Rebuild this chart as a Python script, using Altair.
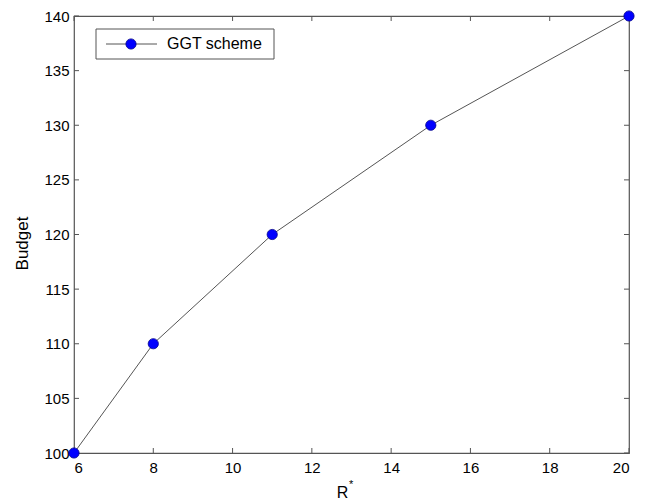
import altair as alt
import pandas as pd

# Data
r_values = [6, 8, 11, 15, 20]
budget_values = [100, 110, 120, 130, 140]
x_ticks = [6, 8, 10, 12, 14, 16, 18, 20]
y_ticks = [100, 105, 110, 115, 120, 125, 130, 135, 140]
series_name = "GGT scheme"

W, H = 555, 437
FONT = "Liberation Sans"
AX = "#555555"

df = pd.DataFrame({"x": r_values, "y": budget_values})
xt = pd.DataFrame({"x": x_ticks})
yt = pd.DataFrame({"y": y_ticks})

xscale = alt.Scale(domain=[6, 20], nice=False, zero=False)
yscale = alt.Scale(domain=[100, 140], nice=False, zero=False)

x_enc = alt.X("x:Q", scale=xscale,
              axis=alt.Axis(values=x_ticks, title="R", domain=False, ticks=False,
                            grid=False, labelPadding=7, labelFontSize=15,
                            labelColor="black", labelFont=FONT,
                            titleFont=FONT, titleFontSize=16, titleFontWeight="normal",
                            titleColor="black", titleX=268, titleY=44,
                            titleBaseline="alphabetic", titleAnchor="start", titleAlign="center"))
y_enc = alt.Y("y:Q", scale=yscale,
              axis=alt.Axis(values=y_ticks, title="Budget", domain=False, ticks=False,
                            grid=False, labelPadding=5, labelFontSize=15,
                            labelColor="black", labelFont=FONT,
                            titleFont=FONT, titleFontSize=17, titleFontWeight="normal",
                            titleColor="black", titleX=-52, titleY=227,
                            titleAngle=270, titleBaseline="middle", titleAlign="center"))

line = alt.Chart(df).mark_line(color="#555555", strokeWidth=1).encode(x=x_enc, y=y_enc)
points = alt.Chart(df).mark_point(filled=True, shape="circle", size=105, color="#0000ff",
                                  stroke="#00008b", strokeWidth=0.8, opacity=1).encode(
    x=alt.X("x:Q", scale=xscale), y=alt.Y("y:Q", scale=yscale))

tick_len = 5
bx = alt.Chart(xt).mark_rule(color=AX, strokeWidth=1).encode(
    x=alt.X("x:Q", scale=xscale), y=alt.value(H), y2=alt.value(H - tick_len))
tx = alt.Chart(xt).mark_rule(color=AX, strokeWidth=1).encode(
    x=alt.X("x:Q", scale=xscale), y=alt.value(0), y2=alt.value(tick_len))
ly = alt.Chart(yt).mark_rule(color=AX, strokeWidth=1).encode(
    y=alt.Y("y:Q", scale=yscale), x=alt.value(0), x2=alt.value(tick_len))
ry = alt.Chart(yt).mark_rule(color=AX, strokeWidth=1).encode(
    y=alt.Y("y:Q", scale=yscale), x=alt.value(W), x2=alt.value(W - tick_len))

# superscript asterisk of the x title
star = alt.Chart(pd.DataFrame({"t": ["*"]})).mark_text(
    font=FONT, fontSize=11, color="black", align="left", baseline="alphabetic").encode(
    x=alt.value(275), y=alt.value(472), text="t:N")

# legend (manual, MATLAB style)
leg_df = pd.DataFrame({"t": [series_name]})
leg_box = alt.Chart(leg_df).mark_rect(fill="white", stroke=AX, strokeWidth=1).encode(
    x=alt.value(22), x2=alt.value(200), y=alt.value(13), y2=alt.value(43))
leg_line = alt.Chart(leg_df).mark_rule(color=AX, strokeWidth=1).encode(
    x=alt.value(32), x2=alt.value(83), y=alt.value(28))
leg_pt = alt.Chart(leg_df).mark_point(filled=True, shape="circle", size=105, color="#0000ff",
                                      stroke="#00008b", strokeWidth=0.8, opacity=1).encode(
    x=alt.value(57), y=alt.value(28))
leg_txt = alt.Chart(leg_df).mark_text(font=FONT, fontSize=16, color="black",
                                      align="left", baseline="middle").encode(
    x=alt.value(93), y=alt.value(28), text="t:N")

chart = alt.layer(line, bx, tx, ly, ry, points, star, leg_box, leg_line, leg_pt, leg_txt).properties(
    width=W, height=H,
    autosize=alt.AutoSizeParams(type="none"),
    padding={"left": 74, "top": 16, "right": 19, "bottom": 49},
    background="white",
).configure_view(stroke=AX, strokeWidth=1.2)

chart.save("out.html", embed_options={"renderer": "svg", "actions": False})
